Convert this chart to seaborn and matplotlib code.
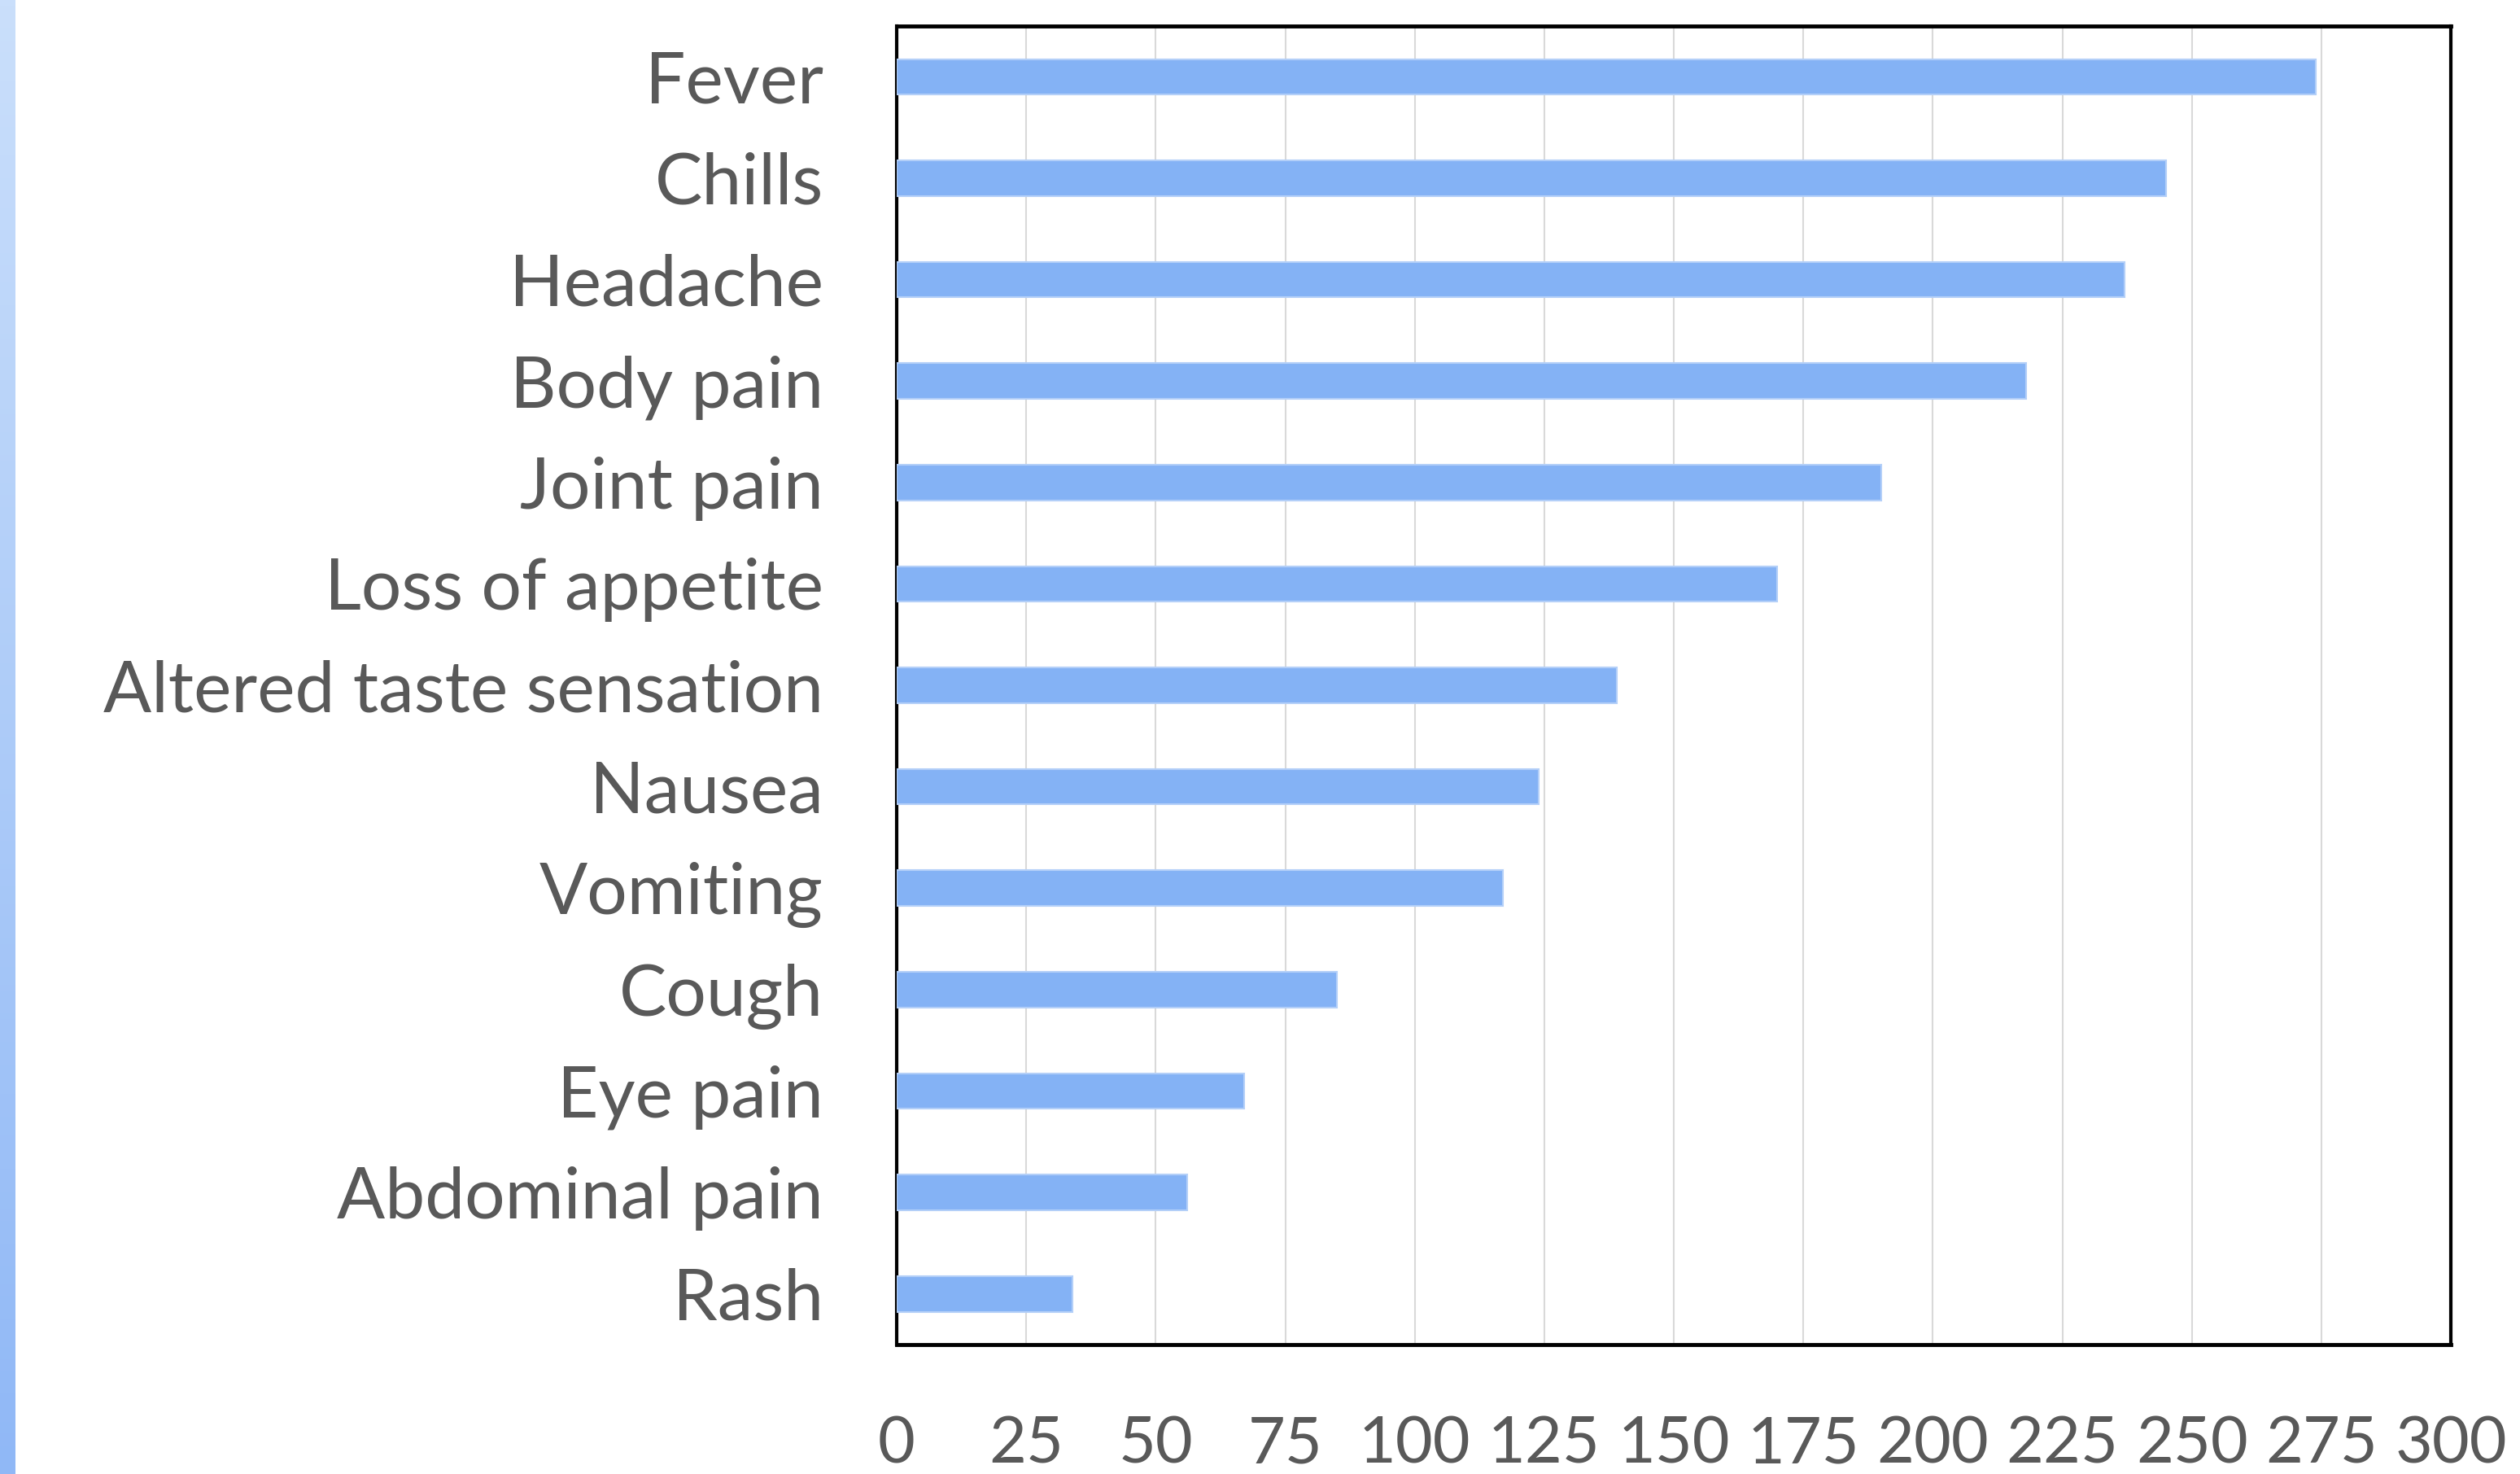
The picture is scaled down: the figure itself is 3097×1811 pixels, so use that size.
import numpy as np
import pandas as pd
import matplotlib
matplotlib.use("Agg")
import matplotlib.pyplot as plt
import seaborn as sns
from matplotlib.colors import LinearSegmentedColormap

categories = ["Fever", "Chills", "Headache", "Body pain", "Joint pain",
              "Loss of appetite", "Altered taste sensation", "Nausea",
              "Vomiting", "Cough", "Eye pain", "Abdominal pain", "Rash"]
counts = [274, 245, 237, 218, 190, 170, 139, 124, 117, 85, 67, 56, 34]
xticks = [0, 25, 50, 75, 100, 125, 150, 175, 200, 225, 250, 275, 300]

sns.set_theme(style="white")
plt.rcParams['font.family'] = ['Lato', 'DejaVu Sans']

df = pd.DataFrame({"Symptom": categories, "Count": counts})

fig = plt.figure(figsize=(30.97, 18.11), dpi=100)
fig.patch.set_facecolor("white")

# left decorative gradient strip
gax = fig.add_axes([0, 0, 19 / 3097, 1])
grad = np.linspace(0, 1, 256).reshape(-1, 1)
cmap = LinearSegmentedColormap.from_list("strip", ["#cadffb", "#90b8f6"])
gax.imshow(grad, aspect="auto", cmap=cmap, extent=[0, 1, 0, 1], origin="upper")
gax.set_axis_off()

ax = fig.add_axes([1102 / 3097, 1 - 1652 / 1811, (3012 - 1102) / 3097, (1652 - 32) / 1811])
sns.barplot(data=df, x="Count", y="Symptom", orient="h", color="#84b2f5",
            saturation=1, width=0.35, edgecolor="#b3cff8", linewidth=1.5, ax=ax, zorder=3)

ax.set_xlim(0, 300)
ax.set_xticks(xticks)
ax.set_xticklabels([str(t) for t in xticks])
ax.xaxis.grid(True, color="#d9d9d9", linewidth=1.5, zorder=0)
ax.yaxis.grid(False)
ax.set_axisbelow(True)
ax.set_xlabel("")
ax.set_ylabel("")
ax.tick_params(axis="x", length=0, pad=63, labelsize=57, labelcolor="#595959")
ax.tick_params(axis="y", length=0, pad=65, labelsize=63, labelcolor="#595959")
for side, sp in ax.spines.items():
    sp.set_visible(True)
    sp.set_color("black")
    sp.set_linewidth(3)
ax.spines["top"].set_linewidth(3.5)
ax.spines["bottom"].set_linewidth(3.5)

fig.savefig("out.png", dpi=100, facecolor="white")
